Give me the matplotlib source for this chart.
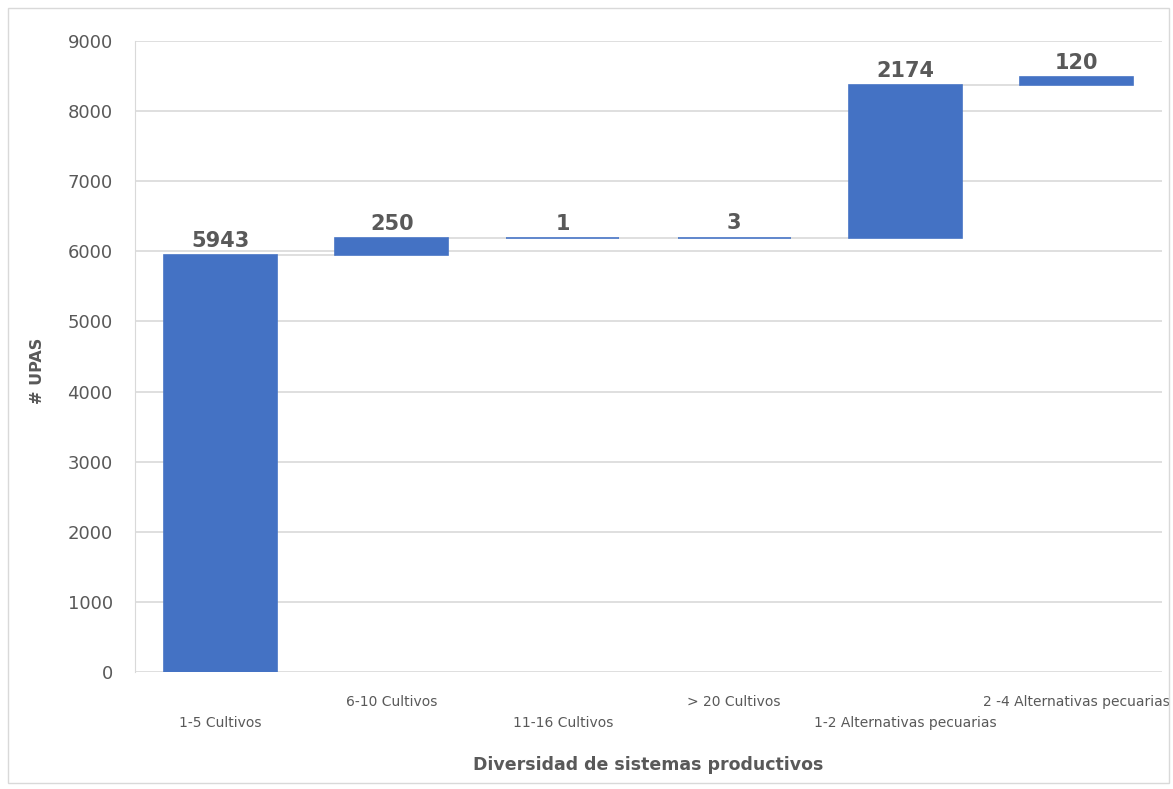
import numpy as np
import matplotlib
matplotlib.use("Agg")
import matplotlib.pyplot as plt
from matplotlib.patches import Rectangle

# waterfall: diversidad de sistemas productivos
categories = ["1-5 Cultivos", "6-10 Cultivos", "11-16 Cultivos", "> 20 Cultivos",
              "1-2 Alternativas pecuarias", "2 -4 Alternativas pecuarias"]
values = [5943, 250, 1, 3, 2174, 120]

bar_color = "#4472C4"
text_color = "#595959"
grid_color = "#D9D9D9"

values = np.array(values)
tops = np.cumsum(values)
bottoms = tops - values
x = np.arange(len(categories))
width = 0.66

fig = plt.figure(figsize=(11.73, 7.89), dpi=100)
ax = fig.add_axes([0.1151, 0.1483, 0.8755, 0.7997])

# thin edge so the tiny steps (1, 3) still show as a line
ax.bar(x, values, bottom=bottoms, width=width, color=bar_color,
       edgecolor=bar_color, linewidth=1.2, zorder=3)

# connectors between consecutive bars
for i in range(len(x) - 1):
    ax.plot([x[i] + width / 2, x[i + 1] - width / 2], [tops[i], tops[i]],
            color=grid_color, lw=1.2, zorder=2)

for xi, v, t in zip(x, values, tops):
    ax.annotate(str(v), (xi, t), xytext=(0, 3), textcoords="offset points",
                ha="center", va="bottom", fontsize=15, fontweight="bold",
                color=text_color)

ax.set_ylim(0, 9000)
ax.set_xlim(-0.5, 5.5)
ax.set_yticks(np.arange(0, 9001, 1000))
ax.yaxis.grid(True, color=grid_color, lw=1.2, zorder=0)
ax.set_axisbelow(True)
ax.tick_params(axis="y", length=0, labelsize=13, labelcolor=text_color, pad=16)

ax.set_xticks(x)
ax.set_xticklabels([])
ax.tick_params(axis="x", length=0)
# staggered category labels, two rows
for i, c in enumerate(categories):
    yoff = -36.7 if i % 2 == 0 else -21.6
    ax.annotate(c, (x[i], 0), xytext=(0, yoff), textcoords="offset points",
                ha="center", va="center", fontsize=10, color=text_color,
                annotation_clip=False)

for s in ["top", "right", "bottom"]:
    ax.spines[s].set_visible(False)
ax.spines["left"].set_color(grid_color)

fig.text(0.553, 0.030, "Diversidad de sistemas productivos", ha="center", va="center",
         fontsize=12.5, fontweight="bold", color=text_color)
fig.text(0.032, 0.53, "# UPAS", ha="center", va="center", rotation=90,
         fontsize=11.5, fontweight="bold", color=text_color)

fig.patches.append(Rectangle((0.007, 0.008), 0.99, 0.982, transform=fig.transFigure,
                             fill=False, edgecolor="#D9D9D9", lw=1))

fig.savefig("out.png", dpi=100)
